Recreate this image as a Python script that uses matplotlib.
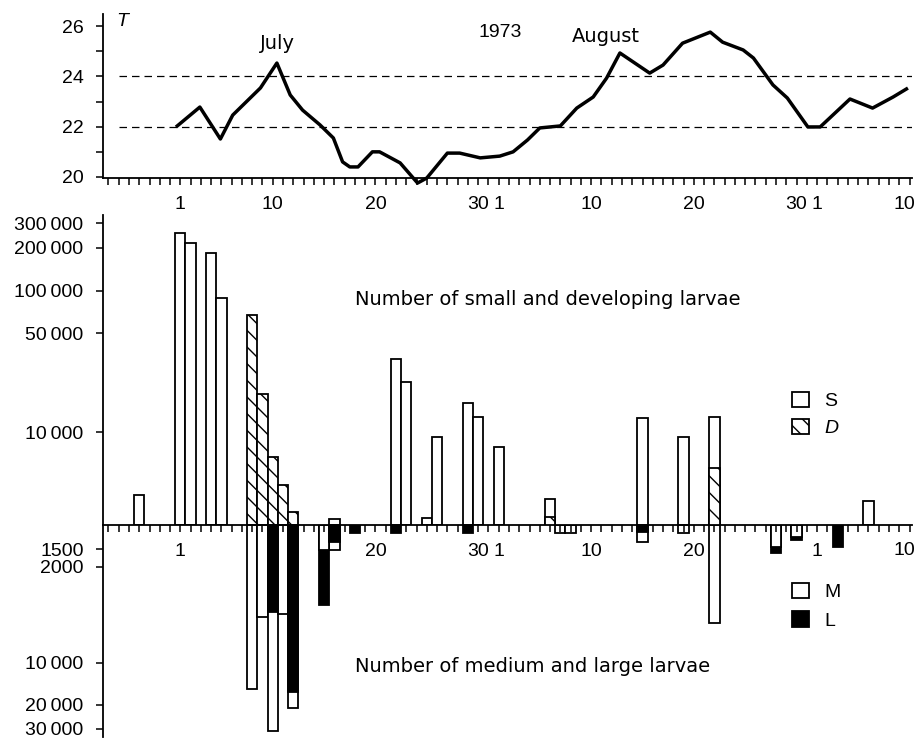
import matplotlib
matplotlib.use('Agg')
import matplotlib.pyplot as plt
import numpy as np
from matplotlib.patches import Patch
from matplotlib.ticker import FixedLocator, MultipleLocator, NullLocator

plt.rcParams['font.family'] = ['Liberation Sans', 'DejaVu Sans']
plt.rcParams['font.size'] = 14
plt.rcParams['hatch.linewidth'] = 1.0
plt.rcParams['axes.linewidth'] = 1.3
WORDS = ['DejaVu Sans']   # wider face for the spaced-out captions

# days counted from 1 July 1973 (1 Aug = 32, 1 Sep = 63)
t_day = [0.7, 2.9, 4.9, 6.1, 8.8, 10.4, 11.7, 12.9, 14.6, 15.9, 16.8, 17.5, 18.3,
         19.7, 20.4, 22.4, 24.1, 25.0, 27.0, 28.2, 30.2, 32.1, 33.4, 34.8, 36.0,
         38.0, 39.6, 41.2, 42.5, 43.8, 46.7, 48.0, 49.9, 52.6, 53.8, 55.8, 56.8,
         58.7, 60.1, 62.1, 63.3, 66.2, 68.4, 70.4, 71.7]
t_val = [22.03, 22.78, 21.51, 22.46, 23.54, 24.53, 23.26, 22.66, 22.07, 21.55, 20.60,
         20.40, 20.40, 21.0, 21.0, 20.56, 19.76, 19.96, 20.95, 20.95, 20.76, 20.83,
         21.0, 21.47, 21.95, 22.03, 22.74, 23.18, 23.93, 24.93, 24.13, 24.45, 25.32,
         25.76, 25.36, 25.05, 24.73, 23.66, 23.14, 21.99, 21.99, 23.10, 22.74, 23.18,
         23.50]

# larvae counts per sampling day
bar_day = [-3, 1, 2, 4, 5, 8, 9, 10, 11, 12, 15, 16, 18, 22, 23, 25, 26, 29, 30, 32,
           37, 38, 39, 46, 50, 53, 59, 61, 65, 68]
small = [3590, 255000, 216000, 184000, 88500, 0, 0, 0, 0, 0, 0, 2430, 0, 32800, 22600,
         2470, 9220, 16000, 12800, 7830, 3360, 0, 0, 12600, 9220, 12800, 0, 0, 0, 3250]
developing = [0, 0, 0, 0, 0, 67100, 18600, 6660, 4220, 2720, 0, 0, 0, 0, 0,
              0, 0, 0, 0, 0, 2510, 0, 0, 0, 0, 5570, 0, 0, 0, 0]
medium = [0, 0, 0, 0, 0, 15430, 4640, 31100, 4420, 21200, 1518, 1518, 0, 0, 0,
          0, 0, 0, 0, 0, 0, 1143, 1143, 1328, 1143, 5130, 1443, 1222, 0, 0]
large = [0, 0, 0, 0, 0, 0, 0, 4270, 0, 16230, 3800, 1328, 1143, 1143, 0,
         0, 0, 1143, 0, 0, 0, 0, 0, 1124, 0, 0, 1596, 1285, 1443, 0]

# the last "10" (10 Sep) sits on the right edge, it is written separately
top_ticks = [1, 10, 20, 30, 32, 41, 51, 61, 63, 72]
top_labels = ['1', '10', '20', '30', '1', '10', '20', '30', '1', '']
bot_ticks = [1, 20, 30, 32, 41, 51, 63, 72]
bot_labels = ['1', '20', '30', '1', '10', '20', '1', '']
edge_label = '10'

up_ticks = [10000, 50000, 100000, 200000, 300000]
up_labels = ['10\u2009000', '50\u2009000', '100\u2009000', '200\u2009000', '300\u2009000']
down_ticks = [1500, 2000, 10000, 20000, 30000]
down_labels = ['1500', '2000', '10\u2009000', '20\u2009000', '30\u2009000']

XMIN, XMAX = -6.53, 72.24
UP_FLOOR, UP_TOP = 2203, 342000
DOWN_FLOOR, DOWN_END = 1000, 34400

W, H = 918, 739
fig = plt.figure(figsize=(W / 100, H / 100), dpi=100)


def box(l, t, r, b):
    return [l / W, 1 - b / H, (r - l) / W, (b - t) / H]


def draw_pair(ax, a, b, floor, style_a, style_b):
    days = np.array(bar_day, float)
    a = np.array(a, float)
    b = np.array(b, float)
    for vals, other, st in ((a, b, style_a), (b, a, style_b)):
        keep = vals > 0
        bars = ax.bar(days[keep], vals[keep] - floor, bottom=floor, width=1.0,
                      linewidth=1.3, **st)
        # smaller of the two is drawn in front
        for p, v, o in zip(bars.patches, vals[keep], other[keep]):
            p.set_zorder(3 if v < o else 2)


tick_kw = dict(direction='out', length=5, width=1.1, colors='black')

# ---- temperature ----
ax_t = fig.add_axes(box(103, 14, 912, 178))
ax_t.plot(t_day, t_val, color='black', lw=2.5, solid_joinstyle='round', clip_on=False)
ax_t.hlines([22, 24], -5, XMAX, colors='black', linestyles=(0, (6, 4)), lw=0.9)
ax_t.set_xlim(XMIN, XMAX)
ax_t.set_ylim(19.96, 26.48)
ax_t.spines[['top', 'right']].set_visible(False)
ax_t.yaxis.set_major_locator(FixedLocator([20, 22, 24, 26]))
ax_t.yaxis.set_minor_locator(FixedLocator([21, 23, 25]))
ax_t.xaxis.set_major_locator(FixedLocator(top_ticks))
ax_t.set_xticklabels(top_labels)
ax_t.xaxis.set_minor_locator(MultipleLocator(1))
ax_t.tick_params(which='both', **tick_kw)
ax_t.tick_params(axis='x', which='both', pad=8)
ax_t.tick_params(axis='y', which='both', pad=9)
ax_t.text(72.6, -0.16, edge_label, ha='right', va='center',
          transform=ax_t.get_xaxis_transform())
ax_t.text(-4.7, 26.2, 'T', style='italic', ha='center', va='center')
ax_t.text(10.5, 25.32, 'July', ha='center', va='center', family=WORDS)
ax_t.text(32.1, 25.76, '1973', ha='center', va='center')
ax_t.text(42.4, 25.6, 'August', ha='center', va='center', family=WORDS)

# ---- medium and large (downwards) ----
ax_m = fig.add_axes(box(103, 525, 912, 737))
ax_m.set_yscale('log')
draw_pair(ax_m, medium, large, DOWN_FLOOR,
          dict(facecolor='white', edgecolor='black'),
          dict(facecolor='black', edgecolor='black'))
ax_m.set_xlim(XMIN, XMAX)
ax_m.set_ylim(DOWN_END, DOWN_FLOOR)
ax_m.spines[['top', 'right', 'bottom']].set_visible(False)
ax_m.set_xticks([])
ax_m.yaxis.set_major_locator(FixedLocator(down_ticks))
ax_m.set_yticklabels(down_labels)
ax_m.yaxis.set_minor_locator(NullLocator())
ax_m.tick_params(which='both', pad=9, **tick_kw)
ax_m.text(18.0, 10690, 'Number of medium and large larvae', ha='left', va='center',
          family=WORDS)
ax_m.legend(handles=[Patch(facecolor='white', edgecolor='black', lw=1.3, label='M'),
                     Patch(facecolor='black', edgecolor='black', lw=1.3, label='L')],
            loc='upper left', bbox_to_anchor=(0.852, 0.727), frameon=False,
            handlelength=0.85, handleheight=0.85, handletextpad=0.8,
            labelspacing=0.5, borderpad=0, borderaxespad=0, fontsize=14)

# ---- small and developing (upwards) ----
ax_s = fig.add_axes(box(103, 215, 912, 525))
ax_s.set_yscale('log')
draw_pair(ax_s, small, developing, UP_FLOOR,
          dict(facecolor='white', edgecolor='black'),
          dict(facecolor='white', edgecolor='black', hatch='\\\\'))
ax_s.set_xlim(XMIN, XMAX)
ax_s.set_ylim(UP_FLOOR, UP_TOP)
ax_s.patch.set_visible(False)
ax_s.spines[['top', 'right']].set_visible(False)
ax_s.yaxis.set_major_locator(FixedLocator(up_ticks))
ax_s.set_yticklabels(up_labels)
ax_s.yaxis.set_minor_locator(NullLocator())
ax_s.xaxis.set_major_locator(FixedLocator(bot_ticks))
ax_s.set_xticklabels(bot_labels)
ax_s.xaxis.set_minor_locator(MultipleLocator(1))
ax_s.tick_params(which='both', **tick_kw)
ax_s.tick_params(axis='x', which='both', pad=8)
ax_s.tick_params(axis='y', which='both', pad=9)
ax_s.text(72.6, -0.081, edge_label, ha='right', va='center',
          transform=ax_s.get_xaxis_transform())
ax_s.text(18.0, 87000, 'Number of small and developing larvae', ha='left', va='center',
          family=WORDS)
leg = ax_s.legend(handles=[Patch(facecolor='white', edgecolor='black', lw=1.3, label='S'),
                           Patch(facecolor='white', edgecolor='black', lw=1.3,
                                 hatch='\\\\', label='D')],
                  loc='upper left', bbox_to_anchor=(0.852, 0.43), frameon=False,
                  handlelength=0.85, handleheight=0.85, handletextpad=0.8,
                  labelspacing=0.45, borderpad=0, borderaxespad=0, fontsize=14)
leg.get_texts()[1].set_style('italic')

fig.savefig('out.png', dpi=100)
